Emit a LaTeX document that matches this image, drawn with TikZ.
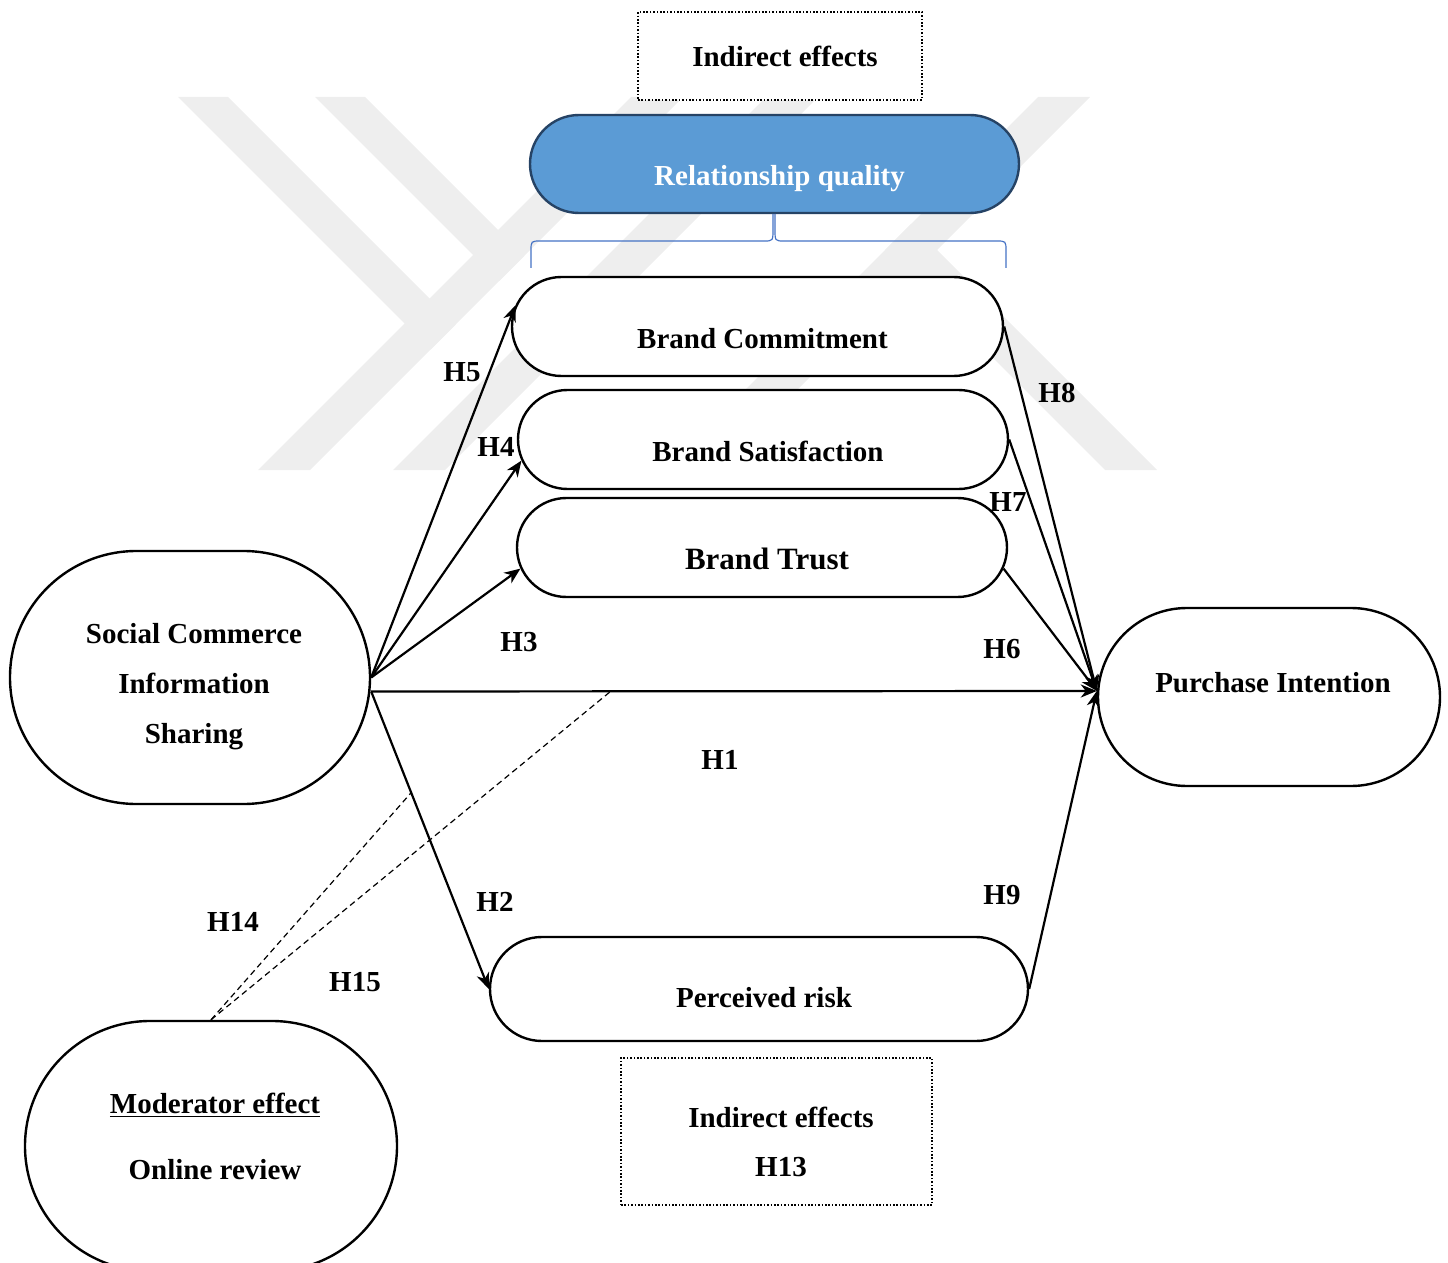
\documentclass[tikz,border=0pt]{standalone}
\usepackage{fontspec}
\setmainfont{Liberation Serif}
\usepackage{xcolor}
\usetikzlibrary{arrows.meta,positioning,shapes.misc}
\definecolor{rqblue}{HTML}{5B9BD5}
\definecolor{rqedge}{HTML}{264365}
\definecolor{bracecol}{HTML}{4472C4}
\definecolor{wmark}{HTML}{EEEEEE}

\begin{document}
\begin{tikzpicture}[>=Stealth,x=0.5pt,y=-0.5pt,
  every node/.style={font=\bfseries\fontsize{14.5}{17}\selectfont},
  pill/.style={draw,line width=1.2pt,rounded rectangle,fill=white,inner sep=0pt,
    text height=25pt,text depth=3pt,execute at begin node=\hspace*{5pt}},
  blob/.style={draw,line width=1.2pt,rounded rectangle,fill=white,inner sep=0pt},
  note/.style={draw,line width=0.8pt,dash pattern=on 0.8pt off 0.9pt,fill=white,
    inner sep=0pt,align=center},
  arr/.style={line width=1.1pt,-{Stealth[length=8pt,width=6.5pt,inset=2.5pt]}},
  modline/.style={line width=0.6pt,dash pattern=on 3pt off 2pt},
  brace/.style={draw=bracecol,line width=0.6pt}]
\useasboundingbox (0,0) rectangle (1448,1263);

% watermark
\fill[wmark] (178,97) -- (228,97) -- (455.5,324.5) -- (430.5,349.5) -- cycle;
\fill[wmark] (258,470) -- (310,470) -- (683,97) -- (631,97) -- cycle;
\fill[wmark] (315,97) -- (365,97) -- (524,256) -- (499,281) -- cycle;
\fill[wmark] (393,470) -- (445,470) -- (818,97) -- (766,97) -- cycle;
\fill[wmark] (1038,97) -- (1090,97) -- (717,470) -- (665,470) -- cycle;
\fill[wmark] (885,250) -- (911,224) -- (1157,470) -- (1105,470) -- cycle;

\node[note,minimum width=142pt,minimum height=44pt] (ind1) at (780,56) {\hspace*{5pt}Indirect effects};
\node[pill,fill=rqblue,draw=rqedge,text=white,minimum width=244.5pt,minimum height=49pt] (rq) at (774.5,164) {Relationship quality};

\draw[brace] (531,268) -- (531,251) .. controls (531,241) .. (541,241) -- (764,241)
  .. controls (773,241) .. (773,229) -- (773,214);
\draw[brace] (775,214) -- (775,229) .. controls (775,241) .. (784,241) -- (996,241)
  .. controls (1006,241) .. (1006,251) -- (1006,268);

\node[pill,minimum width=245.5pt,minimum height=49.5pt] (bc) at (757.5,326.5) {Brand Commitment};
\node[pill,minimum width=245pt,minimum height=49.5pt] (bs) at (763,439.5) {Brand Satisfaction};
\node[pill,minimum width=245pt,minimum height=49.5pt,font=\bfseries\fontsize{15.5}{18}\selectfont] (bt) at (762,547.5) {Brand Trust};
\node[pill,minimum width=269pt,minimum height=52pt,text height=21pt] (risk) at (759,989) {Perceived risk};

\node[blob,minimum width=180pt,minimum height=126.5pt] (sci) at (190,677.5) {};
\node[align=center,font=\bfseries\fontsize{14.5}{25}\selectfont] (scitext) at (194,687) {Social Commerce\\Information\\Sharing};
\node[blob,minimum width=171pt,minimum height=89pt] (pi) at (1269,697) {};
\node (pitext) at (1273,683) {Purchase Intention};
\node[blob,minimum width=186pt,minimum height=125pt] (mod) at (211,1146) {};
\node[align=center,font=\bfseries\fontsize{14.5}{33}\selectfont] (modtext) at (215,1136) {\underline{Moderator effect}\\Online review};
\node[note,minimum width=155.5pt,minimum height=73.5pt] (ind2) at (776.5,1131.5) {};
\node[align=center,font=\bfseries\fontsize{14.5}{24.5}\selectfont] (ind2text) at (781,1141.5) {Indirect effects\\H13};

\coordinate (hub) at ([yshift=-7pt]sci.east);
\coordinate (piin) at ([yshift=3pt]pi.west);

\draw[arr] (sci.east) -- (bc.175);
\draw[arr] (sci.east) -- (bs.185);
\draw[arr] (sci.east) -- (bt.185);
\draw[arr] (hub) -- coordinate[pos=0.33] (onh1) (piin);
\draw[arr] (hub) -- coordinate[pos=0.34] (onh2) (risk.west);
\draw[arr] (bc.east) -- (piin);
\draw[arr] (bs.east) -- (piin);
\draw[arr] (bt.355) -- (piin);
\draw[arr] (risk.east) -- (piin);
\draw[modline] (mod.north) -- (onh2);
\draw[modline] (mod.north) -- (onh1);

\node (h5) at (462,372) {H5};
\node (h4) at (496,447) {H4};
\node (h3) at (519,642) {H3};
\node (h1) at (720,760) {H1};
\node (h2) at (495,902) {H2};
\node (h8) at (1057,393) {H8};
\node (h7) at (1008,502) {H7};
\node (h6) at (1002,649) {H6};
\node (h9) at (1002,895) {H9};
\node (h14) at (233,922) {H14};
\node (h15) at (355,982) {H15};
\end{tikzpicture}
\end{document}
